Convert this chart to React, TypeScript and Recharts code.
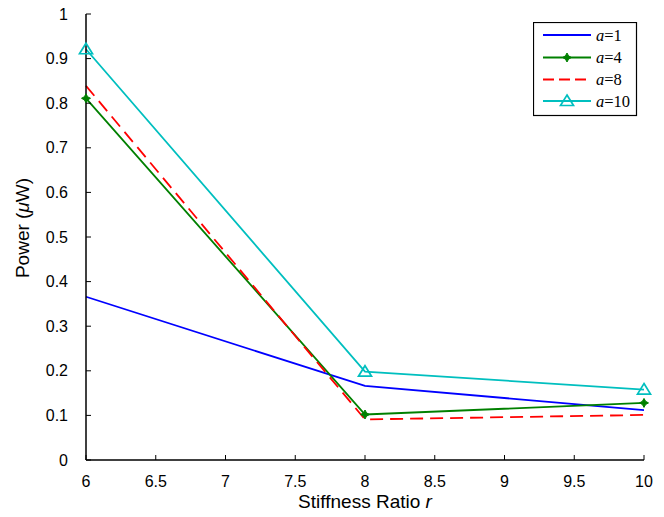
import { LineChart, Line, XAxis, YAxis, Legend, Label } from 'recharts';

const stiffnessRatio = [6, 8, 10];
const powerA1 = [0.366, 0.166, 0.112];
const powerA4 = [0.811, 0.102, 0.128];
const powerA8 = [0.839, 0.091, 0.101];
const powerA10 = [0.921, 0.198, 0.158];

const xTicks = [6, 6.5, 7, 7.5, 8, 8.5, 9, 9.5, 10];
const yTicks = [0, 0.1, 0.2, 0.3, 0.4, 0.5, 0.6, 0.7, 0.8, 0.9, 1];

const seriesNames = ['1', '4', '8', '10'];

const data = stiffnessRatio.map((r, i) => ({
  r,
  a1: powerA1[i],
  a4: powerA4[i],
  a8: powerA8[i],
  a10: powerA10[i],
}));

const BLUE = '#0000ff';
const GREEN = '#008000';
const RED = '#ff0000';
const CYAN = '#00bfbf';
const SANS = '"Liberation Sans", Arial, sans-serif';
const SERIF = '"Liberation Serif", "Times New Roman", serif';
const LW = 1.8;

function starPath(cx: number, cy: number) {
  const o = 4.5;
  const n = 1.6;
  return `M${cx},${cy - o} L${cx + n},${cy - n} L${cx + o},${cy} L${cx + n},${cy + n} L${cx},${cy + o} L${cx - n},${cy + n} L${cx - o},${cy} L${cx - n},${cy - n} Z`;
}

function trianglePath(cx: number, cy: number) {
  return `M${cx},${cy - 6} L${cx + 6.5},${cy + 4.5} L${cx - 6.5},${cy + 4.5} Z`;
}

const StarDot = (props: any) => {
  const { cx, cy, index } = props;
  if (cx == null || cy == null) return null;
  return <path key={`s${index}`} d={starPath(cx, cy)} fill={GREEN} stroke={GREEN} strokeWidth={1} />;
};

const TriangleDot = (props: any) => {
  const { cx, cy, index } = props;
  if (cx == null || cy == null) return null;
  return <path key={`t${index}`} d={trianglePath(cx, cy)} fill="none" stroke={CYAN} strokeWidth={1.7} />;
};

function LegendBox() {
  const rows = [13, 35.5, 57.5, 79];
  const colors = [BLUE, GREEN, RED, CYAN];
  return (
    <svg width={105} height={95} style={{ display: 'block' }}>
      <rect x={0.5} y={0.5} width={103} height={93} fill="#fff" stroke="#000" strokeWidth={1.2} />
      {rows.map((y, i) => (
        <g key={i}>
          <line
            x1={10}
            x2={58}
            y1={y}
            y2={y}
            stroke={colors[i]}
            strokeWidth={LW}
            strokeDasharray={i === 2 ? '11 5' : undefined}
          />
          {i === 1 && <path d={starPath(34, y)} fill={GREEN} stroke={GREEN} />}
          {i === 3 && <path d={trianglePath(34, y)} fill="none" stroke={CYAN} strokeWidth={1.7} />}
          <text x={63} y={y + 5.5} fontFamily={SERIF} fontSize={16.5} fill="#000">
            <tspan fontStyle="italic">a</tspan>={seriesNames[i]}
          </text>
        </g>
      ))}
    </svg>
  );
}

const tickStyle = { fontSize: 16, fill: '#000', fontFamily: SANS };

export default function App() {
  return (
    <div style={{ position: 'absolute', left: 0, top: 0, background: '#fff' }}>
      <LineChart width={664} height={517} data={data} margin={{ top: 14, right: 20, bottom: 0, left: 0 }}>
        <XAxis
          dataKey="r"
          type="number"
          domain={[6, 10]}
          ticks={xTicks}
          height={57}
          tickSize={-5}
          tickMargin={21}
          tick={tickStyle}
          axisLine={{ stroke: '#000', strokeWidth: 1.5 }}
          tickLine={{ stroke: '#000' }}
          interval={0}
        >
          <Label
            content={() => (
              <text x={365} y={508} textAnchor="middle" fontFamily={SANS} fontSize={19} fill="#000">
                Stiffness Ratio <tspan fontStyle="italic">r</tspan>
              </text>
            )}
          />
        </XAxis>
        <XAxis
          xAxisId="top"
          orientation="top"
          dataKey="r"
          type="number"
          domain={[6, 10]}
          ticks={xTicks}
          height={0}
          tickSize={-5}
          tickFormatter={() => ''}
          axisLine={{ stroke: '#000', strokeWidth: 1.5 }}
          tickLine={{ stroke: '#000' }}
          interval={0}
        />
        <YAxis
          type="number"
          domain={[0, 1]}
          ticks={yTicks}
          width={86}
          tickSize={-5}
          tickMargin={23}
          tick={tickStyle}
          axisLine={{ stroke: '#000', strokeWidth: 1.5 }}
          tickLine={{ stroke: '#000' }}
          interval={0}
        >
          <Label
            content={() => (
              <text
                x={29}
                y={228}
                textAnchor="middle"
                transform="rotate(-90, 29, 228)"
                fontFamily={SANS}
                fontSize={19}
                fill="#000"
              >
                Power (<tspan fontStyle="italic">μ</tspan>W)
              </text>
            )}
          />
        </YAxis>
        <YAxis
          yAxisId="right"
          orientation="right"
          type="number"
          domain={[0, 1]}
          ticks={yTicks}
          width={0}
          tickSize={-5}
          tickFormatter={() => ''}
          axisLine={{ stroke: '#000', strokeWidth: 1.5 }}
          tickLine={{ stroke: '#000' }}
          interval={0}
        />
        <Legend
          layout="vertical"
          align="center"
          verticalAlign="middle"
          wrapperStyle={{ left: 533, top: 22, width: 105, height: 95 }}
          content={() => <LegendBox />}
        />
        <Line type="linear" dataKey="a1" stroke={BLUE} strokeWidth={LW} dot={false} activeDot={false} isAnimationActive={false} />
        <Line type="linear" dataKey="a4" stroke={GREEN} strokeWidth={LW} dot={<StarDot />} activeDot={false} isAnimationActive={false} />
        <Line type="linear" dataKey="a8" stroke={RED} strokeWidth={LW} strokeDasharray="13 7" dot={false} activeDot={false} isAnimationActive={false} />
        <Line type="linear" dataKey="a10" stroke={CYAN} strokeWidth={LW} dot={<TriangleDot />} activeDot={false} isAnimationActive={false} />
      </LineChart>
    </div>
  );
}
